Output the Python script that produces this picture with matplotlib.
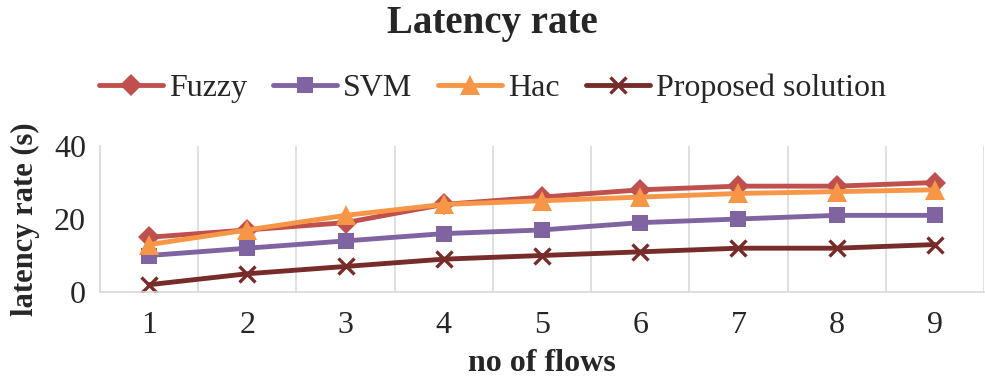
import matplotlib
matplotlib.use("Agg")
import matplotlib.pyplot as plt
from matplotlib.ticker import FixedLocator

plt.rcParams['font.family'] = ['Liberation Serif', 'DejaVu Serif']

flows = [1, 2, 3, 4, 5, 6, 7, 8, 9]
fuzzy = [15, 17, 19, 24, 26, 28, 29, 29, 30]
svm = [10, 12, 14, 16, 17, 19, 20, 21, 21]
hac = [13, 17, 21, 24, 25, 26, 27, 27.5, 28]
proposed = [2, 5, 7, 9, 10, 11, 12, 12, 13]
series_names = ["Fuzzy", "SVM", "Hac", "Proposed solution"]
y_ticks = [0, 20, 40]

fig = plt.figure(figsize=(9.85, 3.86), dpi=100)
ax = fig.add_axes([100/985, 1-292/386, (984-100)/985, (292-146)/386])

styles = [
    (fuzzy, "#C0504D", "D", 11),
    (svm, "#8064A2", "s", 12),
    (hac, "#F79646", "^", 14),
    (proposed, "#772C2A", "x", 12),
]
for (vals, col, mk, ms), name in zip(styles, series_names):
    kw = dict(markeredgewidth=2.4) if mk == "x" else dict(markeredgewidth=0)
    ax.plot(flows, vals, color=col, lw=3.5, marker=mk, markersize=ms,
            label=name, solid_capstyle='round', **kw)

ax.set_xlim(0.5, 9.5)
ax.set_ylim(0, 40)
ax.set_xticks(flows)
ax.set_yticks(y_ticks)
ax.xaxis.set_minor_locator(FixedLocator([i + 0.5 for i in range(0, 10)]))
ax.grid(True, which='minor', axis='x', color='#D9D9D9', lw=1.2)
ax.set_axisbelow(True)
for s in ['top', 'right']:
    ax.spines[s].set_visible(False)
ax.spines['left'].set_color('#D9D9D9')
ax.spines['bottom'].set_color('#D9D9D9')
ax.spines['left'].set_linewidth(1.2)
ax.spines['bottom'].set_linewidth(1.2)
ax.tick_params(axis='both', which='both', length=0, labelsize=23, colors='#262626')
ax.tick_params(axis='x', pad=14)
ax.tick_params(axis='y', pad=10)

ax.set_xlabel("no of flows", fontsize=23, fontweight='bold', labelpad=6, color='#262626')
ax.set_ylabel("latency rate (s)", fontsize=22, fontweight='bold', labelpad=10, color='#262626')

fig.text(0.5, 1-23/386, "Latency rate", ha='center', va='center', fontsize=28,
         fontweight='bold', color='#262626')

fig.legend(loc='center', bbox_to_anchor=(0.5, 1-88/386), ncol=4, frameon=False,
           fontsize=23, handlelength=2.0, columnspacing=0.8, handletextpad=0.2,
           labelcolor='#262626')

fig.savefig("out.png", dpi=100)
